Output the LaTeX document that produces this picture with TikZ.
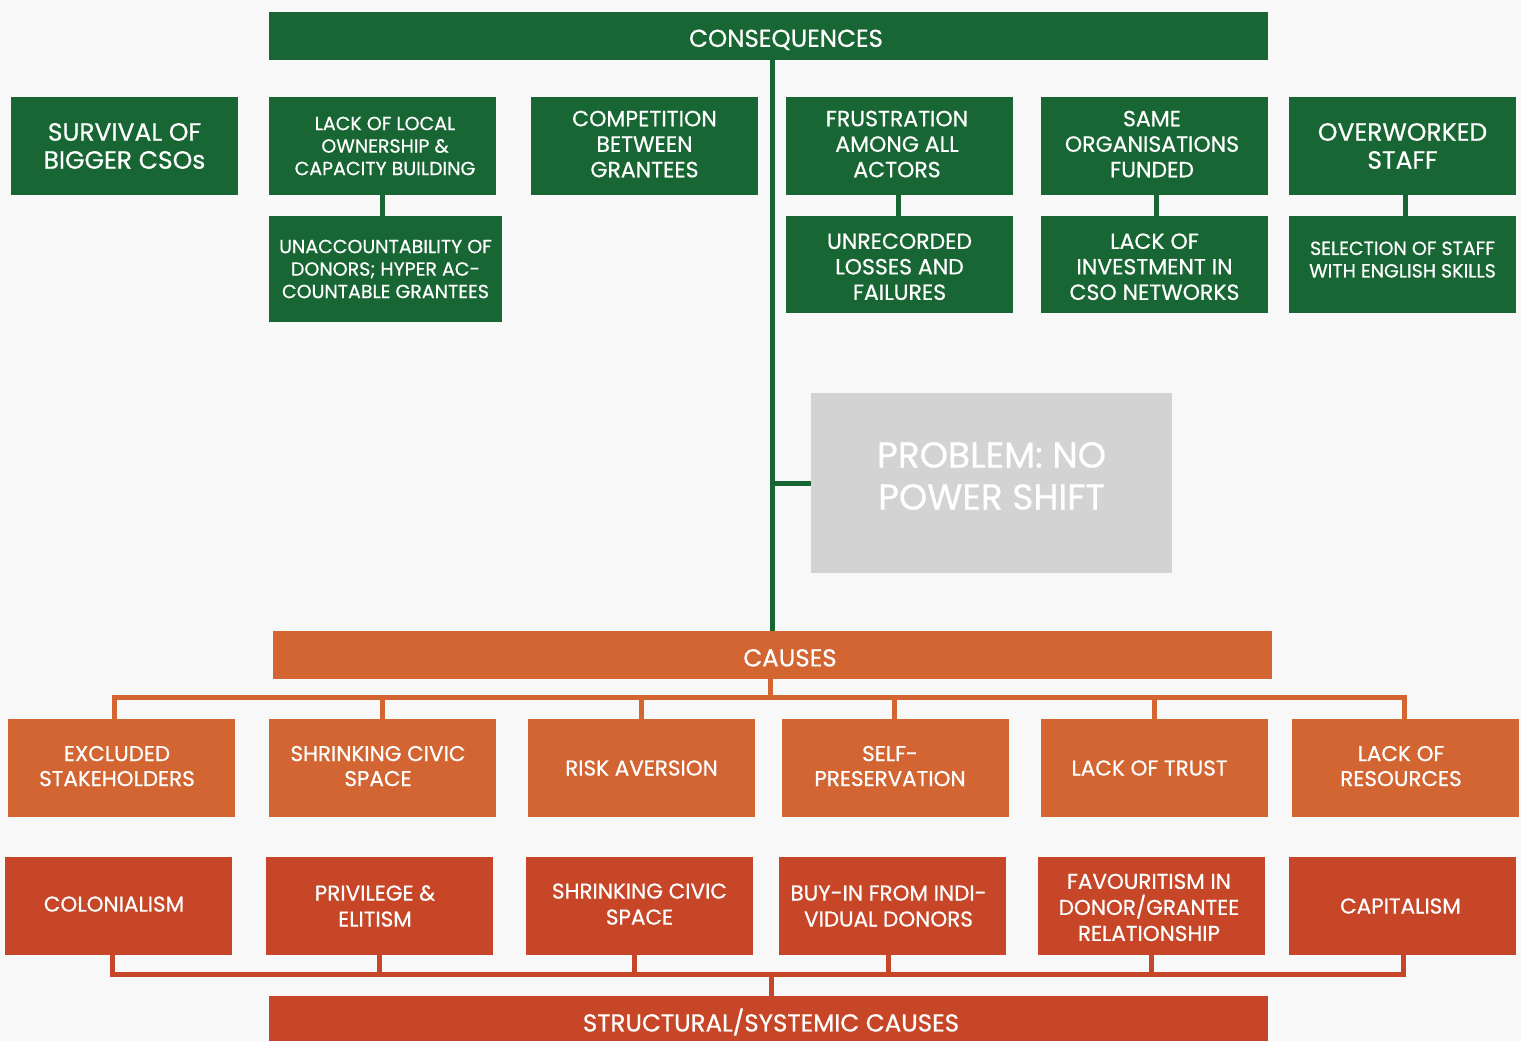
\documentclass[tikz,border=0pt]{standalone}
\usepackage{fontspec}
\setmainfont{Poppins}[FakeBold=0.6]
\definecolor{bgc}{HTML}{F8F8F8}
\definecolor{gc}{HTML}{186634}
\definecolor{oc}{HTML}{D26532}
\definecolor{rc}{HTML}{C64627}
\definecolor{pc}{HTML}{D3D3D3}
\newcommand\hs[1]{\hspace*{#1pt}}
\newcommand\up[1]{\rule[-#1pt]{0pt}{0pt}}
\newcommand\dn[1]{\rule{0pt}{#1pt}}
\tikzset{
  bx/.style={rectangle, inner sep=0pt, text=white, align=center, minimum width=227pt, minimum height=98pt},
  gbox/.style={bx, fill=gc, font=\fontsize{22}{25.5}\selectfont},
  gbig/.style={bx, fill=gc, font=\fontsize{25}{28}\selectfont},
  gsmall/.style={bx, fill=gc, font=\fontsize{19}{22.5}\selectfont},
  obox/.style={bx, fill=oc, font=\fontsize{21.5}{25}\selectfont},
  rbox/.style={bx, fill=rc, font=\fontsize{21.5}{26}\selectfont},
  hdr/.style={bx, minimum width=999pt, minimum height=48pt, font=\fontsize{24.5}{28}\selectfont},
  gline/.style={draw=gc, line width=5pt},
  oline/.style={draw=oc, line width=5pt},
  rline/.style={draw=rc, line width=5pt},
}
\begin{document}
\begin{tikzpicture}[x=1pt,y=-1pt]
\fill[bgc] (0,0) rectangle (1521,1041);
\useasboundingbox (0,0) rectangle (1521,1041);

% headers
\node[hdr, fill=gc] (cons) at (768.5,36) {\hs{35}\dn{25}CONSEQUENCES};
\node[hdr, fill=oc] (causes) at (772.5,655) {\hs{35}\dn{23}CAUSES};
\node[hdr, fill=rc, minimum height=52pt] (struct) at (768.5,1022) {\hs{5}STRUCTURAL/SYSTEMIC CAUSES};

% problem
\node[rectangle, fill=pc, minimum width=361pt, minimum height=180pt, inner sep=0pt,
  label={[text=white, align=center, font=\fontsize{36}{42}\selectfont, yshift=7pt]center:PROBLEM: NO\\POWER SHIFT}] (prob) at (991.5,483) {};

% consequences top row
\node[gbig] (s1) at (124.5,146) {SURVIVAL OF\\BIGGER CSOs};
\node[gsmall] (s2) at (382.5,146) {\hs{5}LACK OF LOCAL\\\hs{5}OWNERSHIP \&\\\hs{5}CAPACITY BUILDING};
\node[gbox] (s3) at (644.5,146) {COMPETITION\\BETWEEN\\GRANTEES\up{4}};
\node[gbox] (s4) at (899.5,146) {\hs{-5}FRUSTRATION\\\hs{-5}AMONG ALL\\\hs{-5}ACTORS\up{4}};
\node[gbox] (s5) at (1154.5,146) {\hs{-5}SAME\\\hs{-5}ORGANISATIONS\\\hs{-5}FUNDED\up{4}};
\node[gbig] (s6) at (1402.5,146) {OVERWORKED\\STAFF};

% consequences second row
\node[gsmall, minimum width=233pt, minimum height=106pt] (t2) at (385.5,269) {UNACCOUNTABILITY OF\\DONORS; HYPER AC-\\COUNTABLE GRANTEES};
\node[gbox, minimum height=97pt] (t4) at (899.5,264.5) {\dn{20}UNRECORDED\\LOSSES AND\\FAILURES};
\node[gbox, minimum height=97pt] (t5) at (1154.5,264.5) {\dn{20}LACK OF\\INVESTMENT IN\\CSO NETWORKS};
\node[gsmall, minimum height=97pt] (t6) at (1402.5,264.5) {SELECTION OF STAFF\\WITH ENGLISH SKILLS\up{10}};

% causes row
\node[obox] (o1) at (121.5,768) {\hs{-9}EXCLUDED\\\hs{-9}STAKEHOLDERS\up{4}};
\node[obox] (o2) at (382.5,768) {\hs{-9}SHRINKING CIVIC\\\hs{-9}SPACE\up{4}};
\node[obox] (o3) at (641.5,768) {RISK AVERSION};
\node[obox] (o4) at (895.5,768) {\hs{-11}SELF-\\\hs{-11}PRESERVATION\up{4}};
\node[obox] (o5) at (1154.5,768) {\hs{-10}LACK OF TRUST};
\node[obox] (o6) at (1405.5,768) {\hs{-9}LACK OF\\\hs{-9}RESOURCES\up{4}};

% structural row
\node[rbox] (r1) at (118.5,906) {\hs{-9}COLONIALISM\up{4}};
\node[rbox] (r2) at (379.5,906) {\hs{-9}PRIVILEGE \&\\\hs{-9}ELITISM};
\node[rbox] (r3) at (639.5,906) {SHRINKING CIVIC\\SPACE\up{4}};
\node[rbox] (r4) at (892.5,906) {\hs{-8}BUY-IN FROM INDI-\\\hs{-8}VIDUAL DONORS};
\node[rbox] (r5) at (1151.5,906) {\hs{-5}\dn{18}FAVOURITISM IN\\\hs{-5}DONOR/GRANTEE\\\hs{-5}RELATIONSHIP};
\node[rbox] (r6) at (1402.5,906) {\hs{-4}CAPITALISM};

% green connectors
\coordinate (spine) at ([xshift=3.5pt]cons.south);
\draw[gline] (spine) -- (spine |- causes.north);
\draw[gline] (prob.west) -- (prob.west -| spine);
\draw[gline] (s2.south) -- (s2.south |- t2.north);
\draw[gline] ([xshift=-1pt]s4.south) -- ([xshift=-1pt]t4.north);
\draw[gline] ([xshift=2pt]s5.south) -- ([xshift=2pt]t5.north);
\draw[gline] ([xshift=3pt]s6.south) -- ([xshift=3pt]t6.north);

% orange connectors
\coordinate (obus) at (770,697.5);
\draw[oline] ([xshift=-2.5pt]causes.south) -- (obus);
\draw[oline] ([xshift=-7pt]o1.north) |- (obus) -| ([xshift=-1.5pt]o6.north);
\draw[oline] (o2.north) -- (o2.north |- obus);
\draw[oline] (o3.north) -- (o3.north |- obus);
\draw[oline] ([xshift=-1.5pt]o4.north) -- ([xshift=-1.5pt]o4.north |- obus);
\draw[oline] (o5.north) -- (o5.north |- obus);

% red connectors
\coordinate (rbus) at (771,974);
\draw[rline] ([xshift=-6pt]r1.south) |- (rbus) -| ([xshift=0.5pt]r6.south);
\draw[rline] (r2.south) -- (r2.south |- rbus);
\draw[rline] ([xshift=-5.5pt]r3.south) -- ([xshift=-5.5pt]r3.south |- rbus);
\draw[rline] ([xshift=-4pt]r4.south) -- ([xshift=-4pt]r4.south |- rbus);
\draw[rline] (r5.south) -- (r5.south |- rbus);
\draw[rline] (rbus) -- (rbus |- struct.north);
\end{tikzpicture}
\end{document}
